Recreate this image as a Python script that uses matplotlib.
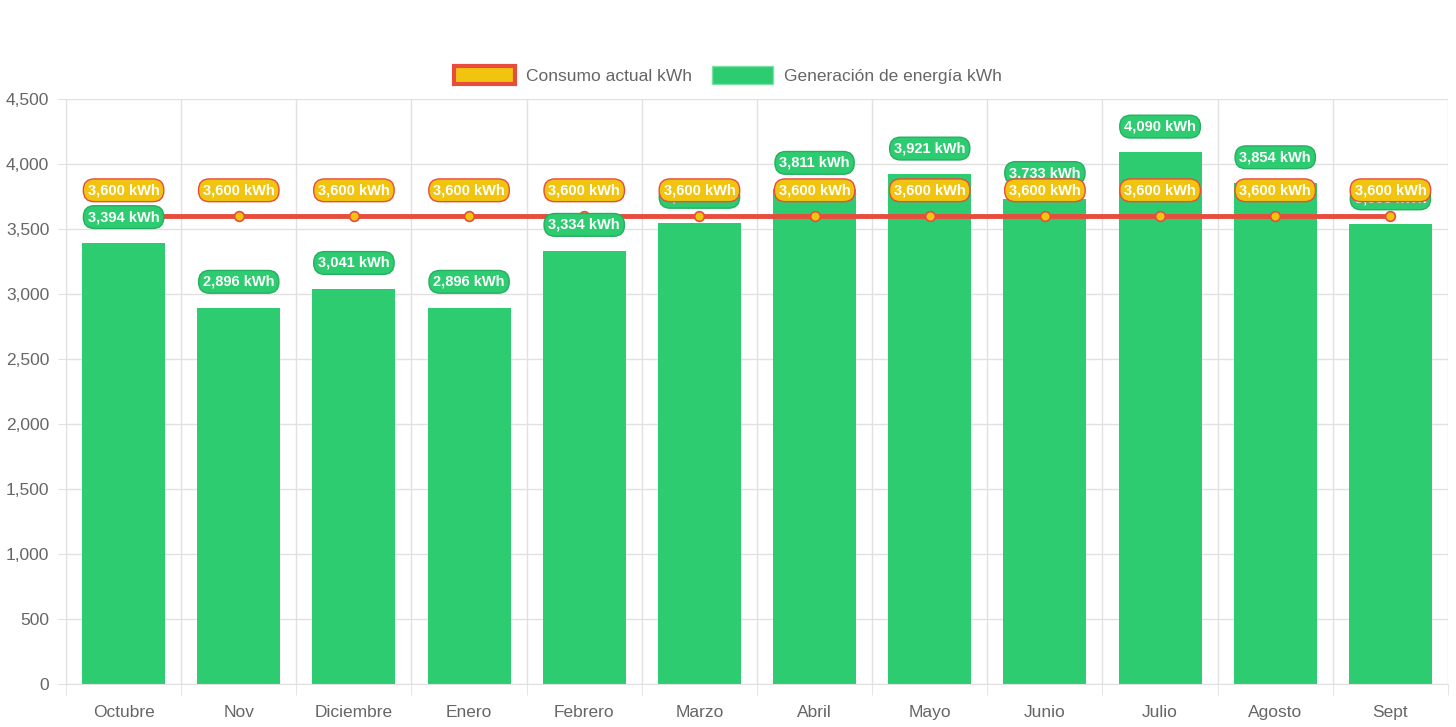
import numpy as np
import matplotlib.pyplot as plt
from matplotlib.patches import Patch
from matplotlib.ticker import FuncFormatter, MultipleLocator

plt.rcParams['font.family'] = ['Liberation Sans', 'DejaVu Sans']

months = ['Octubre', 'Nov', 'Diciembre', 'Enero', 'Febrero', 'Marzo',
          'Abril', 'Mayo', 'Junio', 'Julio', 'Agosto', 'Sept']
generacion = [3394, 2896, 3041, 2896, 3334, 3550, 3811, 3921, 3733, 4090, 3854, 3538]
consumo = [3600] * 12

green = '#2ecc71'
yellow = '#f1c40f'
red = '#e74c3c'
grid_c = '#e1e1e1'
text_c = '#666666'

fig = plt.figure(figsize=(14.56, 7.27), dpi=100)
ax = fig.add_axes([66 / 1456, 1 - 684 / 727, (1448 - 66) / 1456, (684 - 99) / 727])

x = np.arange(len(months))
ax.bar(x, generacion, width=0.72, color=green, zorder=2)
ax.plot(x, consumo, color=red, linewidth=3.5, zorder=3,
        marker='o', markersize=7, markerfacecolor=yellow,
        markeredgecolor=red, markeredgewidth=1.2)

ax.set_xlim(-0.5, len(months) - 0.5)
ax.set_ylim(0, 4500)
ax.yaxis.set_major_locator(MultipleLocator(500))
ax.yaxis.set_major_formatter(FuncFormatter(lambda v, p: '{:,.0f}'.format(v)))
ax.set_xticks(x)
ax.set_xticklabels(months)
ax.set_xticks(np.arange(-0.5, len(months)), minor=True)

ax.grid(axis='y', color=grid_c, linewidth=1, zorder=0)
ax.grid(axis='x', which='minor', color=grid_c, linewidth=1, zorder=0)
ax.tick_params(axis='x', which='major', length=0, pad=15, labelsize=12.5, labelcolor=text_c)
ax.tick_params(axis='x', which='minor', length=8, color=grid_c)
ax.tick_params(axis='y', length=6, color=grid_c, pad=6, labelsize=12.5, labelcolor=text_c)
for side in ['top', 'right']:
    ax.spines[side].set_visible(False)
ax.spines['left'].set_color(grid_c)
ax.spines['bottom'].set_color(grid_c)

# data labels: green first, yellow on top
for xi, v in zip(x, generacion):
    ax.annotate('{:,} kWh'.format(v), (xi, v), xytext=(0, 18.5), textcoords='offset points',
                ha='center', va='center', color='white', fontsize=10.5, fontweight='bold',
                zorder=5,
                bbox=dict(boxstyle='round,pad=0.3,rounding_size=0.75', fc=green, ec='#27ae60', lw=1))
for xi, v in zip(x, consumo):
    ax.annotate('{:,} kWh'.format(v), (xi, v), xytext=(0, 18.5), textcoords='offset points',
                ha='center', va='center', color='white', fontsize=10.5, fontweight='bold',
                zorder=6,
                bbox=dict(boxstyle='round,pad=0.3,rounding_size=0.75', fc=yellow, ec=red, lw=1))

handles = [Patch(facecolor=yellow, edgecolor=red, linewidth=3, label='Consumo actual kWh'),
           Patch(facecolor=green, edgecolor='#7be0a6', linewidth=1, label='Generación de energía kWh')]
fig.legend(handles=handles, loc='center', bbox_to_anchor=(0.5, 1 - 75 / 727), ncol=2,
           frameon=False, fontsize=12.5, labelcolor=text_c, handlelength=3.5,
           handleheight=1.2, columnspacing=1.2, handletextpad=0.6)

fig.savefig('out.png', dpi=100)
